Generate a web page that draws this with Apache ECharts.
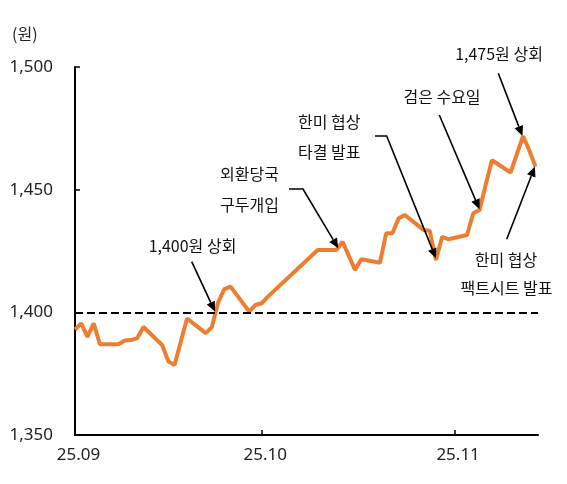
<!DOCTYPE html>
<html><head><meta charset="utf-8">
<script src="https://cdn.jsdelivr.net/npm/echarts@6/dist/echarts.min.js"></script>
<style>html,body{margin:0;padding:0;background:#fff}#c{width:567px;height:484px}</style>
</head><body><div id="c"></div>
<script>
// ---- data ----
const dates = [
  '2025-09-01','2025-09-02','2025-09-03','2025-09-04','2025-09-05',
  '2025-09-08','2025-09-09','2025-09-10','2025-09-11','2025-09-12',
  '2025-09-15','2025-09-16','2025-09-17','2025-09-18','2025-09-19',
  '2025-09-22','2025-09-23','2025-09-24','2025-09-25','2025-09-26',
  '2025-09-29','2025-09-30','2025-10-01','2025-10-02',
  '2025-10-10','2025-10-13','2025-10-14','2025-10-15','2025-10-16','2025-10-17',
  '2025-10-20','2025-10-21','2025-10-22','2025-10-23','2025-10-24',
  '2025-10-27','2025-10-28','2025-10-29','2025-10-30','2025-10-31',
  '2025-11-03','2025-11-04','2025-11-05','2025-11-06','2025-11-07',
  '2025-11-10','2025-11-11','2025-11-12','2025-11-13','2025-11-14'
];
const rates = [
  1393.0,1395.5,1390.0,1395.5,1387.0,
  1387.0,1388.5,1388.7,1389.5,1394.0,
  1386.7,1380.0,1378.5,1388.0,1397.5,
  1391.5,1394.0,1404.0,1409.5,1410.5,
  1400.3,1403.0,1403.7,1406.4,
  1425.4,1425.4,1428.8,1423.0,1417.3,1421.6,
  1420.2,1432.2,1432.2,1438.3,1439.7,
  1433.6,1433.3,1421.3,1430.8,1429.8,
  1431.5,1440.4,1441.7,1452.0,1462.0,
  1457.0,1464.5,1471.8,1466.0,1459.4
];
const tickDates = ['2025-09-01','2025-10-01','2025-11-01'];
const tickLabels = ['25.09','25.10','25.11'];
const refLevel = 1400;
const unitLabel = '(원)';
const noteTexts = ['1,400원 상회','외환당국','구두개입','한미 협상','타결 발표','검은 수요일','1,475원 상회','한미 협상','팩트시트 발표'];

// ---- build ----
const DAY0 = Date.UTC(2025,8,1);
function dayOf(s){const p=s.split('-').map(Number);return (Date.UTC(p[0],p[1]-1,p[2])-DAY0)/86400000;}
const xs = dates.map(dayOf);
const seriesData = xs.map((x,i)=>[x,rates[i]]);
const tickX = tickDates.map(dayOf);

const numFont = "'Noto Sans', sans-serif";
const krFont = "'Noto Sans CJK KR', sans-serif";
const chart = echarts.init(document.getElementById('c'));
chart.setOption({
  animation:false,
  backgroundColor:'#fff',
  grid:{left:75,right:29,top:67,bottom:49},
  xAxis:{
    type:'value',min:0,max:74.4,
    axisLine:{show:true,lineStyle:{color:'#000',width:2}},
    axisTick:{show:true,inside:true,length:5,customValues:tickX.slice(1),lineStyle:{color:'#000',width:1.5}},
    axisLabel:{customValues:tickX,margin:12,color:'#222',fontSize:17,fontFamily:numFont,padding:[0,0,0,7],
      formatter:function(v){const i=tickX.indexOf(v);return i>=0?tickLabels[i]:'';}},
    splitLine:{show:false}
  },
  yAxis:{
    type:'value',min:1350,max:1500,interval:50,
    axisLine:{show:true,lineStyle:{color:'#000',width:2}},
    axisTick:{show:true,inside:true,length:5,lineStyle:{color:'#000',width:1.5}},
    axisLabel:{margin:22,color:'#222',fontSize:17,fontFamily:numFont,
      formatter:function(v){return v.toLocaleString('en-US');}},
    splitLine:{show:false}
  },
  series:[{
    type:'line',data:seriesData,showSymbol:false,symbol:'none',
    lineStyle:{color:'#ED7D31',width:4},
    z:3,
    markLine:{silent:true,symbol:['none','none'],label:{show:false},
      lineStyle:{color:'#000',type:[8,4],width:2},
      data:[{yAxis:refLevel}]}
  }]
});

// ---- annotations ----
const textLayout = [
  {i:0,x:192.5,y:246,a:'center'},
  {i:1,x:220,y:174,a:'left'},
  {i:2,x:220,y:205,a:'left'},
  {i:3,x:298,y:122,a:'left'},
  {i:4,x:298,y:152,a:'left'},
  {i:5,x:442,y:97,a:'center'},
  {i:6,x:499,y:54,a:'center'},
  {i:7,x:506,y:260,a:'center'},
  {i:8,x:506.5,y:288,a:'center'}
];
// arrows: tail points in pixels, tip in data coords [day, value]
const arrowLayout = [
  {pts:[[191.7,261.7]], tip:[22.5,1400.3]},
  {pts:[[289,189],[303,189]], tip:[42.3,1426.1]},
  {pts:[[375,136],[386.7,136]], tip:[58.0,1422.0]},
  {pts:[[439.3,115]], tip:[65.0,1442.0]},
  {pts:[[498.3,73.3]], tip:[71.9,1471.9]},
  {pts:[[506.7,239.3]], tip:[73.9,1459.4]}
];
const g = [];
g.push({type:'text',style:{text:unitLabel,x:12,y:34,fill:'#222',fontSize:16,fontFamily:krFont,align:'left',verticalAlign:'middle'}});
textLayout.forEach(t=>{
  g.push({type:'text',style:{text:noteTexts[t.i],x:t.x,y:t.y,fill:'#111',fontSize:16,fontFamily:krFont,align:t.a,verticalAlign:'middle'}});
});
arrowLayout.forEach(a=>{
  const tip = chart.convertToPixel({gridIndex:0}, a.tip);
  const prev = a.pts[a.pts.length-1];
  const dx = tip[0]-prev[0], dy = tip[1]-prev[1];
  const L = Math.hypot(dx,dy), ux = dx/L, uy = dy/L;
  const hl = 10, hw = 4.5;
  const base = [tip[0]-ux*hl, tip[1]-uy*hl];
  g.push({type:'polyline',shape:{points:a.pts.concat([base])},style:{stroke:'#000',lineWidth:1.6,fill:null},z:10});
  g.push({type:'polygon',shape:{points:[tip,[base[0]-uy*hw,base[1]+ux*hw],[base[0]+uy*hw,base[1]-ux*hw]]},style:{fill:'#000'},z:10});
});
chart.setOption({graphic:g});
</script>
</body></html>
